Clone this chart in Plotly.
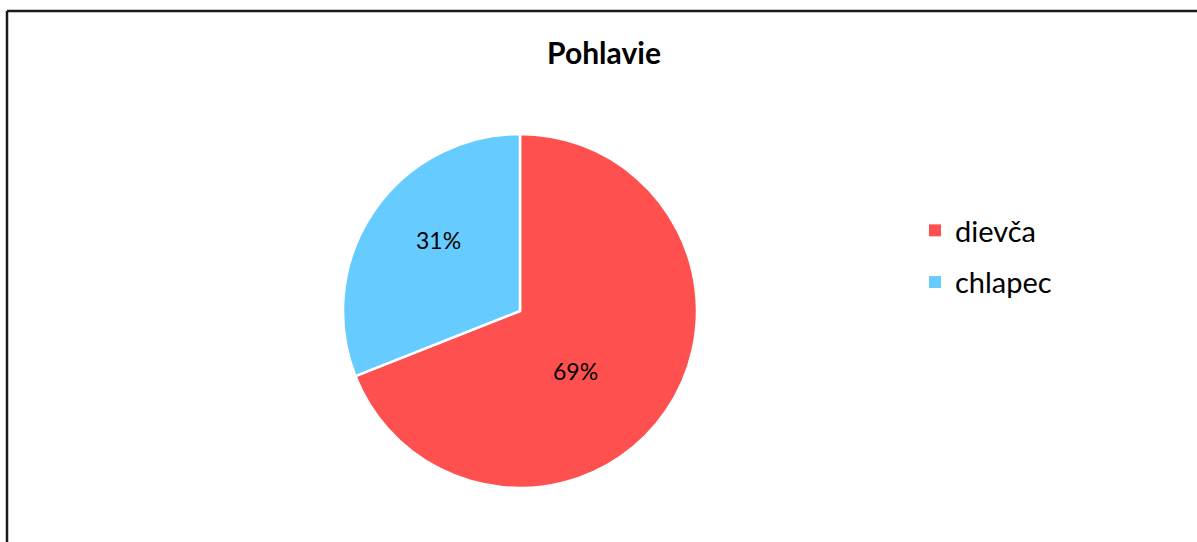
import math
import plotly.graph_objects as go

# Respondent gender split
labels = ["dievča", "chlapec"]
shares = [69, 31]
colors = ["#FF5050", "#66CCFF"]

W, H = 1197, 542
cx, cy, r = 520, 311, 177  # pie centre and radius in pixels
FONT = "Lato, Carlito, Calibri, sans-serif"

fig = go.Figure()

fig.add_trace(
    go.Pie(
        labels=labels,
        values=shares,
        sort=False,
        direction="clockwise",
        rotation=0,
        marker=dict(colors=colors, line=dict(color="white", width=2.5)),
        textinfo="none",
        showlegend=False,
        domain=dict(
            x=[(cx - r) / W, (cx + r) / W],
            y=[1 - (cy + r) / H, 1 - (cy - r) / H],
        ),
        hoverinfo="label+percent",
    )
)

# Legend entries as square swatches, one group each so they can be spaced apart
for i, (lab, col) in enumerate(zip(labels, colors)):
    fig.add_trace(
        go.Scatter(
            x=[None], y=[None], mode="markers", name=lab,
            marker=dict(symbol="square", size=12, color=col),
            legendgroup=f"g{i}", showlegend=True, hoverinfo="skip",
        )
    )

# Percentage labels placed inside each slice, positioned from the slice angles
total = sum(shares)
label_shift_deg = [13, 7]
label_radius_frac = [0.46, 0.61]
annotations = []
start = 0.0
for i, v in enumerate(shares):
    span = 360.0 * v / total
    ang = math.radians(start + span / 2 + label_shift_deg[i])
    d = label_radius_frac[i] * r
    px = cx + d * math.sin(ang)
    py = cy - d * math.cos(ang)
    annotations.append(dict(
        x=px / W, y=1 - py / H, xref="paper", yref="paper",
        text=f"{round(100 * v / total)}%", showarrow=False,
        xanchor="center", yanchor="middle",
        font=dict(family=FONT, size=23, color="black"),
    ))
    start += span

fig.update_layout(
    width=W,
    height=H,
    margin=dict(l=0, r=0, t=0, b=0),
    paper_bgcolor="white",
    plot_bgcolor="white",
    font=dict(family=FONT, color="black"),
    xaxis=dict(visible=False),
    yaxis=dict(visible=False),
    title=dict(
        text="<b>Pohlavie</b>",
        x=604 / W,
        xanchor="center",
        y=1 - 53 / H,
        yanchor="middle",
        font=dict(size=30, color="black"),
    ),
    legend=dict(
        x=915 / W,
        y=1 - 205 / H,
        xanchor="left",
        yanchor="top",
        font=dict(size=29, color="black"),
        tracegroupgap=11,
        itemwidth=30,
        bgcolor="rgba(0,0,0,0)",
    ),
    annotations=annotations,
    shapes=[
        # outer chart frame (open on the right and bottom edges)
        dict(type="line", xref="paper", yref="paper",
             x0=7 / W, x1=1.01, y0=1 - 11 / H, y1=1 - 11 / H,
             line=dict(color="#1a1a1a", width=2.5)),
        dict(type="line", xref="paper", yref="paper",
             x0=7 / W, x1=7 / W, y0=1 - 11 / H, y1=-0.01,
             line=dict(color="#1a1a1a", width=2.5)),
    ],
)

fig.write_html("out.html")
